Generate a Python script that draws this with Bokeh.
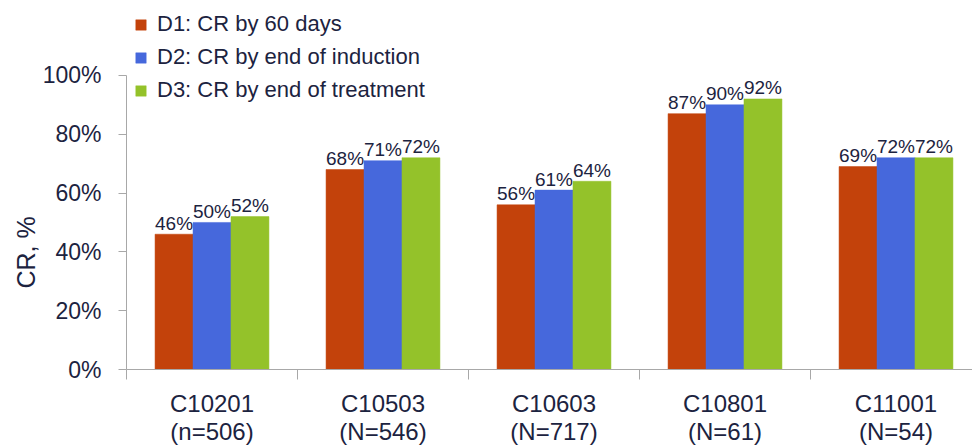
from bokeh.plotting import figure
from bokeh.models import (FixedTicker, PrintfTickFormatter, Range1d, Legend, LegendItem,
                          ColumnDataSource, Title)
from bokeh.core.properties import value
from bokeh.embed import file_html
from bokeh.resources import INLINE

# ---- data ----
studies = ["C10201", "C10503", "C10603", "C10801", "C11001"]
sizes = ["(n=506)", "(N=546)", "(N=717)", "(N=61)", "(N=54)"]
series_names = ["D1: CR by 60 days", "D2: CR by end of induction", "D3: CR by end of treatment"]
d1 = [46, 68, 56, 87, 69]
d2 = [50, 71, 61, 90, 72]
d3 = [52, 72, 64, 92, 72]
y_ticks = [0, 20, 40, 60, 80, 100]
y_title = "CR, %"

colors = ["#C3420B", "#4668DC", "#94C22A"]
TEXT = "#1c2340"
AXIS = "#a8a8a8"
FONT = "Liberation Sans"

W, H = 972, 447
LEFT, BOTTOM = 126, 76
PX_PER_CAT = 171.0
PX_PER_PCT = 2.957
p = figure(width=W, height=H, output_backend="svg", toolbar_location=None,
           min_border_left=LEFT, min_border_right=0, min_border_top=0,
           min_border_bottom=BOTTOM,
           x_range=Range1d(-0.5, -0.5 + (W - LEFT) / PX_PER_CAT),
           y_range=Range1d(0, (H - BOTTOM) / PX_PER_PCT))
p.outline_line_color = None
p.xgrid.visible = False
p.ygrid.visible = False
p.background_fill_color = "white"
p.border_fill_color = "white"

bw = 0.222
offsets = [-bw, 0.0, bw]
xs = list(range(len(studies)))
items = []
for vals, off, col, name in zip([d1, d2, d3], offsets, colors, series_names):
    src = ColumnDataSource(dict(x=[i + off for i in xs], top=vals,
                                lab=[f"{v}%" for v in vals]))
    r = p.vbar(x="x", top="top", width=bw, bottom=0, source=src,
               fill_color=col, line_color=col, line_width=0.5)
    p.text(x="x", y="top", text="lab", source=src, text_align="center",
           text_baseline="alphabetic", y_offset=-11, text_color=TEXT,
           text_font=value(FONT), text_font_size="19px")
    items.append(LegendItem(label=name, renderers=[r]))

legend = Legend(items=items, location="top_left", orientation="vertical",
                glyph_width=13, glyph_height=13, label_height=32, spacing=1,
                label_standoff=10, padding=0, margin=8,
                border_line_color=None, background_fill_alpha=0,
                label_text_font=FONT, label_text_font_size="22px",
                label_text_color=TEXT)
p.add_layout(legend)

# y axis
ya = p.yaxis[0]
ya.ticker = FixedTicker(ticks=y_ticks)
ya.formatter = PrintfTickFormatter(format="%d%%")
ya.bounds = (0, 100)
ya.axis_line_color = AXIS
ya.major_tick_line_color = AXIS
ya.major_tick_out = 8
ya.major_tick_in = 0
ya.minor_tick_line_color = None
ya.major_label_standoff = 17
ya.major_label_text_font = FONT
ya.major_label_text_font_size = "23px"
ya.major_label_text_color = TEXT

# y axis title as a left-side title, positioned along the axis
p.add_layout(Title(text=y_title, align="left", offset=81, standoff=0,
                   text_font=FONT, text_font_size="25px", text_font_style="normal",
                   text_color=TEXT), "left")

# x axis
xa = p.xaxis[0]
xa.ticker = FixedTicker(ticks=xs, minor_ticks=[i - 0.5 for i in range(len(studies) + 1)])
xa.major_label_overrides = {i: f"{s}\n{n}" for i, (s, n) in enumerate(zip(studies, sizes))}
xa.axis_line_color = AXIS
xa.major_tick_line_color = None
xa.major_tick_out = 0
xa.major_tick_in = 0
xa.minor_tick_line_color = AXIS
xa.minor_tick_out = 10
xa.minor_tick_in = 0
xa.major_label_standoff = 10
xa.major_label_text_font = FONT
xa.major_label_text_font_size = "24px"
xa.major_label_text_line_height = 1.05
xa.major_label_text_color = TEXT

open("out.html", "w").write(file_html(p, INLINE))
